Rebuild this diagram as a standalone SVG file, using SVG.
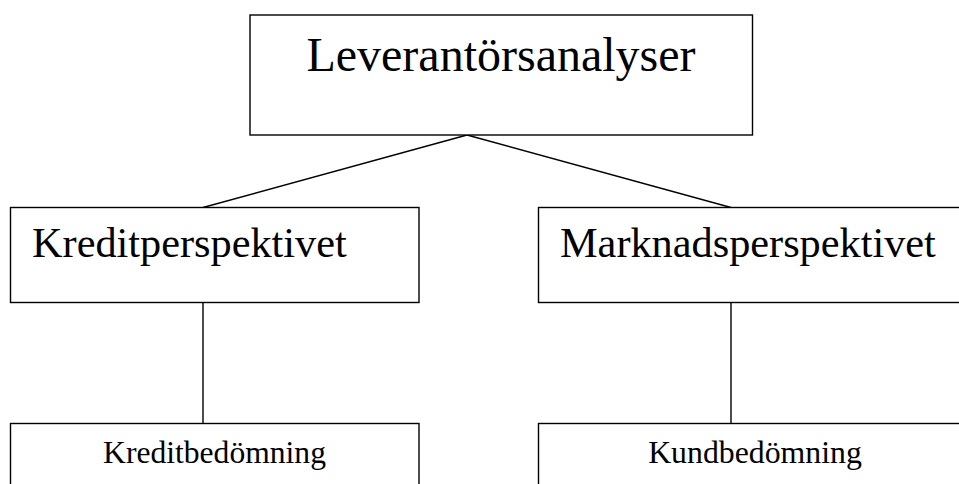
<svg xmlns="http://www.w3.org/2000/svg" width="959" height="484" viewBox="0 0 959 484">
<style>
.box{fill:#fff;stroke:#000;stroke-width:1.4}
.t{font-family:"Liberation Serif","Times New Roman",serif;fill:#000}
.c{stroke:#000;stroke-width:1.4;fill:none}
</style>
<rect width="959" height="484" fill="#fff"/>
<g id="connectors">
<line class="c" x1="467" y1="135" x2="203" y2="207.5"/>
<line class="c" x1="467" y1="135" x2="731" y2="207.5"/>
<line class="c" x1="203" y1="302" x2="203" y2="423.5"/>
<line class="c" x1="731" y1="302" x2="731" y2="423.5"/>
</g>
<g id="n-leverantorsanalyser">
<rect class="box" x="250" y="15" width="502.5" height="120"/>
<text class="t" x="501" y="71" font-size="48" text-anchor="middle">Leverantörsanalyser</text>
</g>
<g id="n-kreditperspektivet">
<rect class="box" x="10.5" y="207.5" width="408.5" height="95"/>
<text class="t" x="32" y="257" font-size="42.3">Kreditperspektivet</text>
</g>
<g id="n-marknadsperspektivet">
<rect class="box" x="538.5" y="207.5" width="440" height="95"/>
<text class="t" x="560" y="257" font-size="42.3">Marknadsperspektivet</text>
</g>
<g id="n-kreditbedomning">
<rect class="box" x="10.5" y="423.5" width="408.5" height="80"/>
<text class="t" x="214.5" y="463" font-size="31.6" text-anchor="middle">Kreditbedömning</text>
</g>
<g id="n-kundbedomning">
<rect class="box" x="538.5" y="423.5" width="440" height="80"/>
<text class="t" x="755" y="463" font-size="31.8" text-anchor="middle">Kundbedömning</text>
</g>
</svg>
